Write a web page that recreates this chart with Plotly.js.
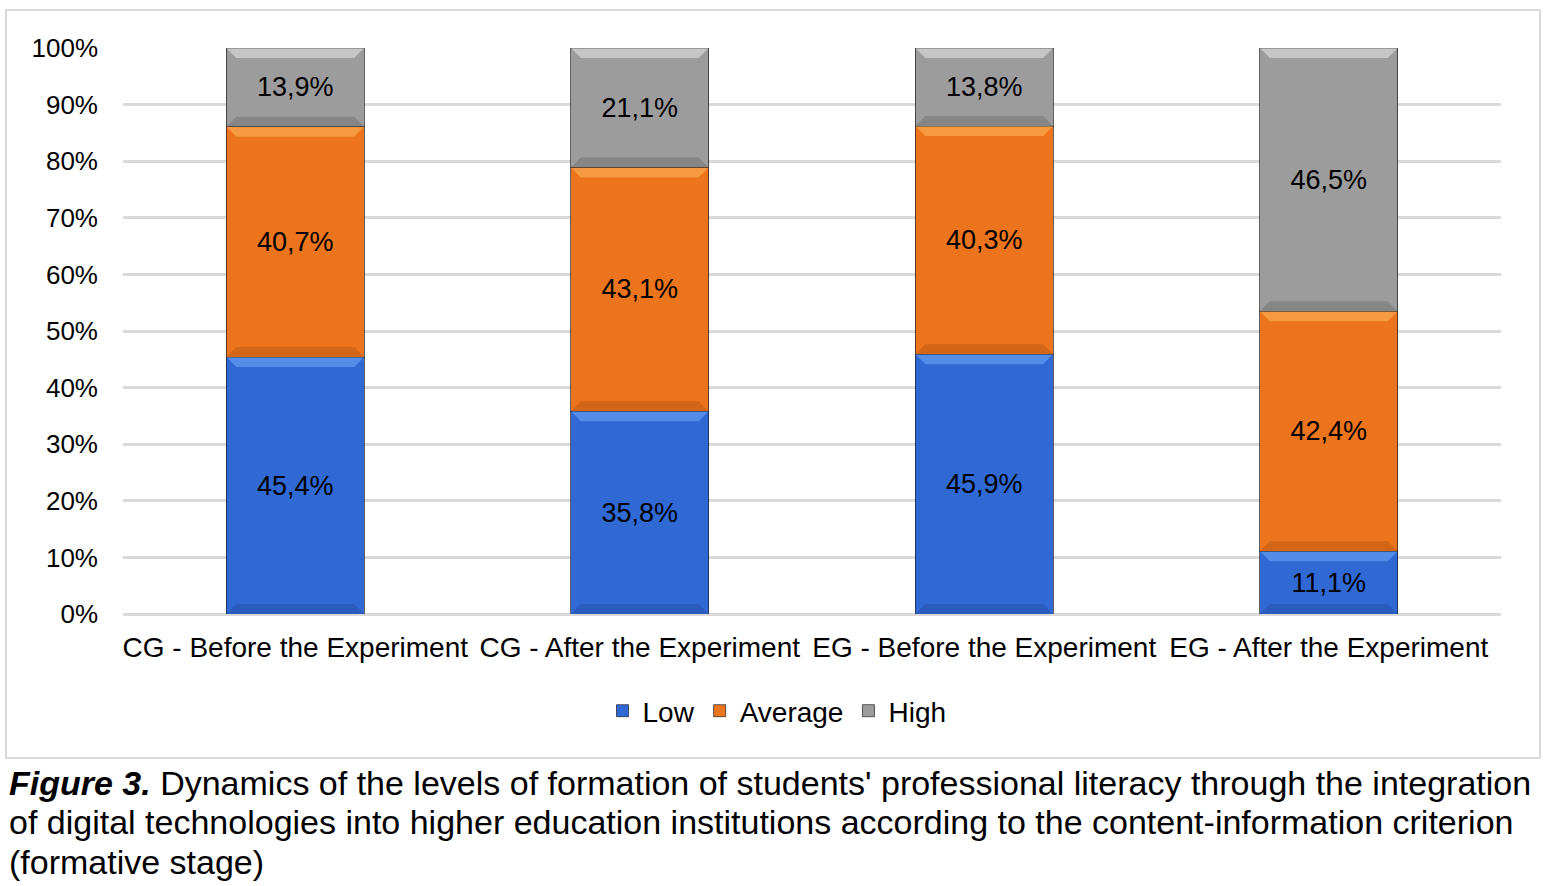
<!DOCTYPE html>
<html>
<head>
<meta charset="utf-8">
<script src="https://cdn.plot.ly/plotly-3.0.1.min.js"></script>
<style>html,body{margin:0;padding:0;background:#fff;}#chart{width:1544px;height:886px;}</style>
</head>
<body>
<div id="chart"></div>
<script>
const categories = ["CG - Before the Experiment", "CG - After the Experiment", "EG - Before the Experiment", "EG - After the Experiment"];
const lowValues = [45.4, 35.8, 45.9, 11.1];
const averageValues = [40.7, 43.1, 40.3, 42.4];
const highValues = [13.9, 21.1, 13.8, 46.5];
const yTickValues = [0, 10, 20, 30, 40, 50, 60, 70, 80, 90, 100];
const yTickLabels = ["0%", "10%", "20%", "30%", "40%", "50%", "60%", "70%", "80%", "90%", "100%"];

const fmt = v => v.toFixed(1).replace('.', ',') + '%';
const FONT = 'Liberation Sans, Arial, sans-serif';
const BAR_W = 0.4;

const styles = [
  {name: 'Low', vals: lowValues, main: '#3069d4', light: 'rgba(120,175,255,0.5)', dark: 'rgba(20,40,100,0.2)'},
  {name: 'Average', vals: averageValues, main: '#ec741c', light: 'rgba(255,190,100,0.5)', dark: 'rgba(110,45,0,0.2)'},
  {name: 'High', vals: highValues, main: '#9c9c9c', light: 'rgba(240,240,240,0.5)', dark: 'rgba(40,40,40,0.18)'}
];

const data = styles.map(s => ({
  type: 'bar', name: s.name, x: categories, y: s.vals, width: BAR_W,
  text: s.vals.map(fmt), textposition: 'inside', insidetextanchor: 'middle',
  textfont: {family: FONT, size: 27, color: '#000'},
  marker: {color: s.main, line: {color: 'rgba(30,30,40,0.7)', width: 1}},
  hoverinfo: 'skip'
}));

// plot area: x 123..1501 (1378px), y 48..614 (566px)
const px = x => (x - 123) / 1378;
const py = y => (614 - y) / 566;

// bevel bands computed from the data through axis units
const bevX = 10 / 344.5, bevY = 10 / 5.66;
const shapes = [];
categories.forEach((c, i) => {
  let base = 0;
  styles.forEach(s => {
    const v = s.vals[i];
    const top = base + v, bot = base;
    const x0 = i - BAR_W / 2, x1 = i + BAR_W / 2;
    shapes.push({type: 'path', xref: 'x', yref: 'y', layer: 'above', line: {width: 0}, fillcolor: s.light,
      path: `M${x0},${top} L${x1},${top} L${x1 - bevX},${top - bevY} L${x0 + bevX},${top - bevY} Z`});
    shapes.push({type: 'path', xref: 'x', yref: 'y', layer: 'above', line: {width: 0}, fillcolor: s.dark,
      path: `M${x0},${bot} L${x1},${bot} L${x1 - bevX},${bot + bevY} L${x0 + bevX},${bot + bevY} Z`});
    base = top;
  });
});
shapes.push({type: 'rect', xref: 'paper', yref: 'paper', x0: px(6), x1: px(1540), y0: py(758), y1: py(10),
  line: {color: '#d9d9d9', width: 2}, fillcolor: 'rgba(0,0,0,0)', layer: 'below'});

const capFont = {family: FONT, size: 34, color: '#000'};
const layout = {
  width: 1544, height: 886,
  margin: {l: 123, r: 43, t: 48, b: 272},
  paper_bgcolor: '#fff', plot_bgcolor: '#fff',
  barmode: 'stack',
  showlegend: true,
  legend: {orientation: 'h', x: px(777), xanchor: 'center', y: py(711), yanchor: 'middle',
           font: {family: FONT, size: 28, color: '#000'}, itemwidth: 30, traceorder: 'normal'},
  xaxis: {type: 'category', range: [-0.5, 3.5], tickangle: 0, showgrid: false, showline: false, ticks: '',
          tickfont: {family: FONT, size: 28, color: '#000'}, ticklabelstandoff: 14},
  yaxis: {range: [0, 100], tickvals: yTickValues, ticktext: yTickLabels, showgrid: true,
          gridcolor: '#d9d9d9', gridwidth: 3, zeroline: true, zerolinecolor: '#d9d9d9', zerolinewidth: 3,
          showline: false, ticks: '', tickfont: {family: FONT, size: 26, color: '#000'}, ticklabelstandoff: 24},
  shapes: shapes,
  annotations: [
    {xref: 'paper', yref: 'paper', x: px(7), y: py(783), xanchor: 'left', yanchor: 'middle', showarrow: false,
     align: 'left', font: capFont,
     text: "<b><i>Figure 3.</i></b> Dynamics of the levels of formation of students' professional literacy through the integration"},
    {xref: 'paper', yref: 'paper', x: px(7), y: py(822), xanchor: 'left', yanchor: 'middle', showarrow: false,
     align: 'left', font: capFont,
     text: "of digital technologies into higher education institutions according to the content-information criterion"},
    {xref: 'paper', yref: 'paper', x: px(7), y: py(862), xanchor: 'left', yanchor: 'middle', showarrow: false,
     align: 'left', font: capFont,
     text: "(formative stage)"}
  ]
};

Plotly.newPlot('chart', data, layout, {displayModeBar: false, staticPlot: true});
</script>
</body>
</html>
